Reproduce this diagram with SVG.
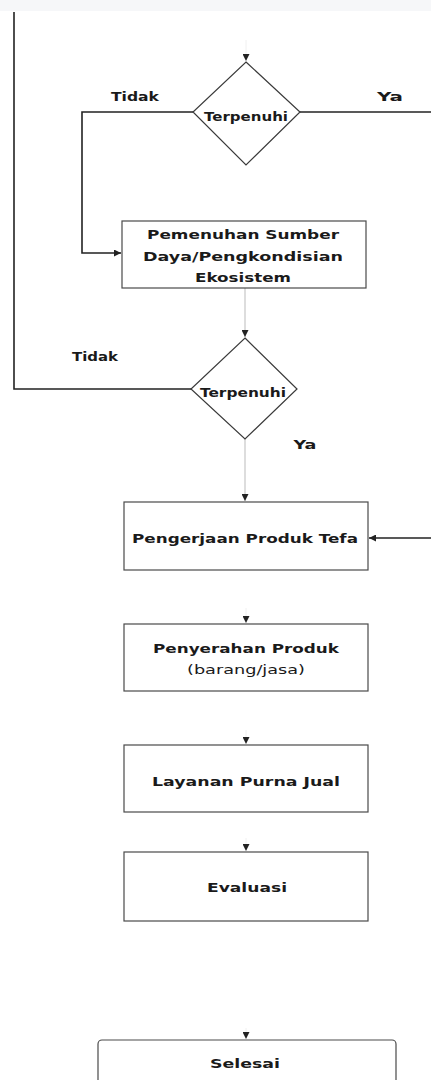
<svg xmlns="http://www.w3.org/2000/svg" width="431" height="1080" viewBox="0 0 431 1080">
<style>
.bg{fill:#ffffff}
.band{fill:#f6f7f9}
.box{fill:#ffffff;stroke:#4a4a4a;stroke-width:1.2}
.dia{fill:#ffffff;stroke:#3a3a3a;stroke-width:1.2}
.ln{fill:none;stroke:#222;stroke-width:1.6}
.lt{fill:none;stroke:#bbb;stroke-width:1}
.fa{fill:none;stroke:#f0f0f0;stroke-width:1}
.t{font-family:"DejaVu Sans",Verdana,sans-serif;font-weight:bold;font-size:13px;fill:#1a1a1a;text-anchor:middle;dominant-baseline:central}
.n{font-weight:normal}
</style>
<defs>
<marker id="ah" viewBox="0 0 10 10" refX="10" refY="5" markerWidth="7" markerHeight="7" markerUnits="userSpaceOnUse" orient="auto">
<path d="M0,0 L10,5 L0,10 z" fill="#222"/>
</marker>
</defs>
<rect class="bg" x="0" y="0" width="431" height="1080"/>
<rect class="band" x="0" y="0" width="431" height="11"/>
<g id="connectors">
<path class="ln" d="M14,12 V389 H191"/>
<path class="ln" d="M193,112 H82 V253 H121" marker-end="url(#ah)"/>
<path class="ln" d="M300,112 H431"/>
<path class="fa" d="M246,40 V61" marker-end="url(#ah)"/>
<path class="lt" d="M245,288 V337" marker-end="url(#ah)"/>
<path class="lt" d="M245,439 V501" marker-end="url(#ah)"/>
<path class="ln" d="M431,538 H369" stroke-width="1" marker-end="url(#ah)"/>
<path class="fa" d="M246,608 V623" marker-end="url(#ah)"/>
<path class="fa" d="M246,730 V744" marker-end="url(#ah)"/>
<path class="fa" d="M246,838 V851" marker-end="url(#ah)"/>
<path class="fa" d="M246,1028 V1039" marker-end="url(#ah)"/>
</g>
<g id="label-tidak1"><text class="t" x="135" y="96" textLength="48" lengthAdjust="spacingAndGlyphs">Tidak</text></g>
<g id="label-ya1"><text class="t" x="390" y="96" textLength="26" lengthAdjust="spacingAndGlyphs">Ya</text></g>
<g id="label-tidak2"><text class="t" x="95" y="356" textLength="46" lengthAdjust="spacingAndGlyphs">Tidak</text></g>
<g id="label-ya2"><text class="t" x="305" y="444" textLength="23" lengthAdjust="spacingAndGlyphs">Ya</text></g>
<g id="decision1">
<path class="dia" d="M246,62 L300,112 L246,165 L193,112 z"/>
<text class="t" x="246" y="116" font-size="12" textLength="84" lengthAdjust="spacingAndGlyphs">Terpenuhi</text>
</g>
<g id="box1">
<rect class="box" x="122" y="221" width="244" height="67"/>
<text class="t" x="243" y="234" textLength="192" lengthAdjust="spacingAndGlyphs">Pemenuhan Sumber</text>
<text class="t" x="243" y="256" textLength="200" lengthAdjust="spacingAndGlyphs">Daya/Pengkondisian</text>
<text class="t" x="243" y="277" textLength="96" lengthAdjust="spacingAndGlyphs">Ekosistem</text>
</g>
<g id="decision2">
<path class="dia" d="M245,338 L297,389 L245,439 L191,389 z"/>
<text class="t" x="243" y="392" font-size="12" textLength="86" lengthAdjust="spacingAndGlyphs">Terpenuhi</text>
</g>
<g id="box2">
<rect class="box" x="124" y="502" width="244" height="68"/>
<text class="t" x="245" y="538" textLength="226" lengthAdjust="spacingAndGlyphs">Pengerjaan Produk Tefa</text>
</g>
<g id="box3">
<rect class="box" x="124" y="624" width="244" height="67"/>
<text class="t" x="246" y="648" textLength="186" lengthAdjust="spacingAndGlyphs">Penyerahan Produk</text>
<text class="t n" x="246" y="669" font-size="12" textLength="118" lengthAdjust="spacingAndGlyphs">(barang/jasa)</text>
</g>
<g id="box4">
<rect class="box" x="124" y="745" width="244" height="67"/>
<text class="t" x="246" y="781" font-size="14" textLength="188" lengthAdjust="spacingAndGlyphs">Layanan Purna Jual</text>
</g>
<g id="box5">
<rect class="box" x="124" y="852" width="244" height="69"/>
<text class="t" x="247" y="887" textLength="80" lengthAdjust="spacingAndGlyphs">Evaluasi</text>
</g>
<g id="box6">
<rect class="box" x="98" y="1040" width="298" height="50" rx="4"/>
<text class="t" x="245" y="1063" textLength="70" lengthAdjust="spacingAndGlyphs">Selesai</text>
</g>
</svg>
